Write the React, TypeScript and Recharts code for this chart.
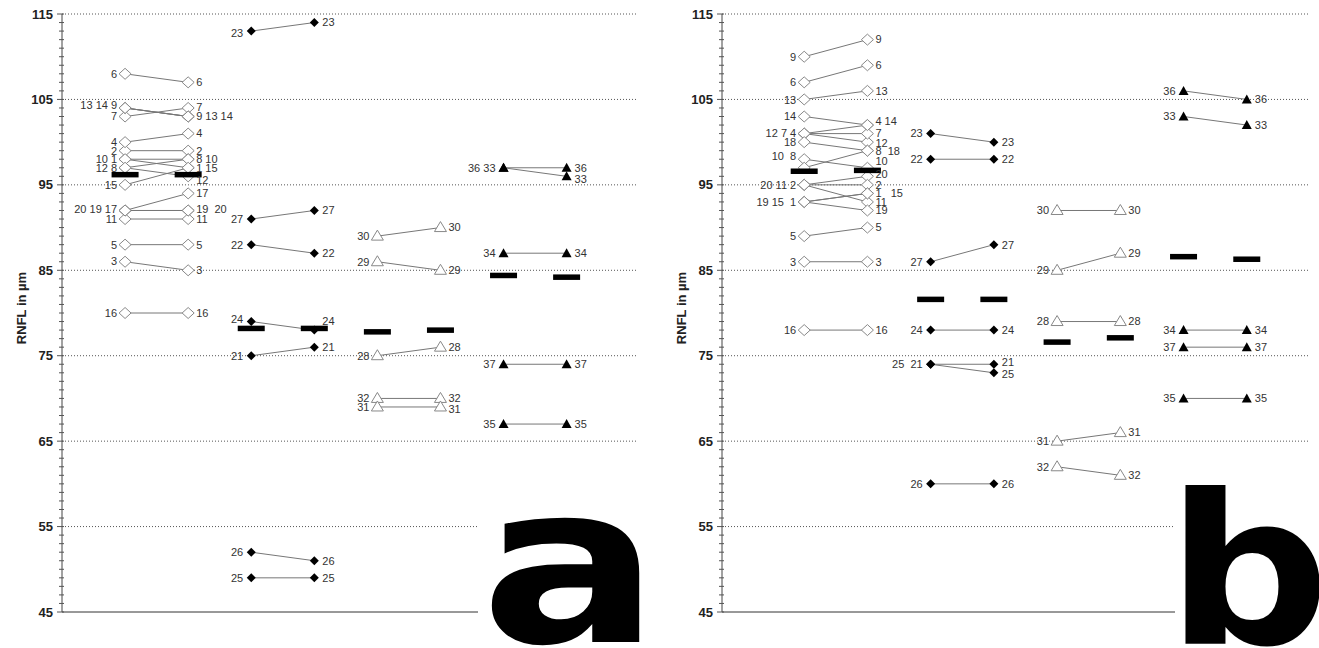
import React from "react";
import { ComposedChart, Line, Scatter, XAxis, YAxis, ReferenceLine } from "recharts";

type Patient = { id: number; pre: number; post: number };
type Lbl = { y: number; text: string };
type Kind = "openDiamond" | "filledDiamond" | "openTriangle" | "filledTriangle";
type Group = { kind: Kind; pos: number; patients: Patient[]; left: Lbl[]; right: Lbl[] };

const MAJOR_TICKS = [45, 55, 65, 75, 85, 95, 105, 115];
const GRID_LINES = [55, 65, 75, 85, 95, 105, 115];
const MINOR_TICKS = Array.from({ length: 71 }, (_, i) => 45 + i);

// ---- panel a ----
const A_OPEN_DIAMOND: Patient[] = [
    { id: 1, pre: 98, post: 97 }, { id: 2, pre: 99, post: 99 }, { id: 3, pre: 86, post: 85 },
    { id: 4, pre: 100, post: 101 }, { id: 5, pre: 88, post: 88 }, { id: 6, pre: 108, post: 107 },
    { id: 7, pre: 103, post: 104 }, { id: 8, pre: 97, post: 98 }, { id: 9, pre: 104, post: 103 },
    { id: 10, pre: 98, post: 98 }, { id: 11, pre: 91, post: 91 }, { id: 12, pre: 97, post: 96 },
    { id: 13, pre: 104, post: 103 }, { id: 14, pre: 104, post: 103 }, { id: 15, pre: 95, post: 97 },
    { id: 16, pre: 80, post: 80 }, { id: 17, pre: 92, post: 94 }, { id: 19, pre: 92, post: 92 },
    { id: 20, pre: 92, post: 92 },
];
const A1_LEFT: Lbl[] = [
    { y: 108, text: "6" }, { y: 104.3, text: "13 14 9" }, { y: 103, text: "7" }, { y: 100, text: "4" },
    { y: 99, text: "2" }, { y: 98, text: "10 1" }, { y: 97, text: "12 8" }, { y: 95, text: "15" },
    { y: 92.2, text: "20 19 17" }, { y: 91, text: "11" }, { y: 88, text: "5" }, { y: 86.1, text: "3" },
    { y: 80, text: "16" },
];
const A1_RIGHT: Lbl[] = [
    { y: 107, text: "6" }, { y: 104.1, text: "7" }, { y: 103, text: "9 13 14" }, { y: 101, text: "4" },
    { y: 99, text: "2" }, { y: 98, text: "8 10" }, { y: 97, text: "1 15" }, { y: 95.5, text: "12" },
    { y: 94, text: "17" }, { y: 92.2, text: "19  20" }, { y: 91, text: "11" }, { y: 88, text: "5" },
    { y: 85, text: "3" }, { y: 80, text: "16" },
];

const A_FILLED_DIAMOND: Patient[] = [
    { id: 23, pre: 113, post: 114 }, { id: 27, pre: 91, post: 92 }, { id: 22, pre: 88, post: 87 },
    { id: 24, pre: 79, post: 78 }, { id: 21, pre: 75, post: 76 }, { id: 26, pre: 52, post: 51 },
    { id: 25, pre: 49, post: 49 },
];
const A2_LEFT: Lbl[] = [
    { y: 112.8, text: "23" }, { y: 91, text: "27" }, { y: 88, text: "22" }, { y: 79.3, text: "24" },
    { y: 75, text: "21" }, { y: 52, text: "26" }, { y: 49, text: "25" },
];
const A2_RIGHT: Lbl[] = [
    { y: 114, text: "23" }, { y: 92, text: "27" }, { y: 87, text: "22" }, { y: 79, text: "24" },
    { y: 76, text: "21" }, { y: 51, text: "26" }, { y: 49, text: "25" },
];

const A_OPEN_TRIANGLE: Patient[] = [
    { id: 30, pre: 89, post: 90 }, { id: 29, pre: 86, post: 85 }, { id: 28, pre: 75, post: 76 },
    { id: 32, pre: 70, post: 70 }, { id: 31, pre: 69, post: 69 },
];
const A3_LEFT: Lbl[] = [
    { y: 89, text: "30" }, { y: 86, text: "29" }, { y: 75, text: "28" }, { y: 70, text: "32" }, { y: 69, text: "31" },
];
const A3_RIGHT: Lbl[] = [
    { y: 90, text: "30" }, { y: 85, text: "29" }, { y: 76, text: "28" }, { y: 70, text: "32" }, { y: 68.8, text: "31" },
];

const A_FILLED_TRIANGLE: Patient[] = [
    { id: 36, pre: 97, post: 97 }, { id: 33, pre: 97, post: 96 }, { id: 34, pre: 87, post: 87 },
    { id: 37, pre: 74, post: 74 }, { id: 35, pre: 67, post: 67 },
];
const A4_LEFT: Lbl[] = [
    { y: 97, text: "36 33" }, { y: 87, text: "34" }, { y: 74, text: "37" }, { y: 67, text: "35" },
];
const A4_RIGHT: Lbl[] = [
    { y: 97, text: "36" }, { y: 95.7, text: "33" }, { y: 87, text: "34" }, { y: 74, text: "37" }, { y: 67, text: "35" },
];

const MEANS_A = [96.2, 96.2, 78.2, 78.2, 77.8, 78.0, 84.4, 84.2];

// ---- panel b ----
const B_OPEN_DIAMOND: Patient[] = [
    { id: 9, pre: 110, post: 112 }, { id: 6, pre: 107, post: 109 }, { id: 13, pre: 105, post: 106 },
    { id: 14, pre: 103, post: 102 }, { id: 12, pre: 101, post: 100 }, { id: 7, pre: 101, post: 101 },
    { id: 4, pre: 101, post: 102 }, { id: 18, pre: 100, post: 99 }, { id: 10, pre: 98, post: 97 },
    { id: 8, pre: 97, post: 99 }, { id: 20, pre: 95, post: 96 }, { id: 11, pre: 95, post: 93 },
    { id: 2, pre: 95, post: 95 }, { id: 19, pre: 93, post: 92 }, { id: 15, pre: 93, post: 94 },
    { id: 1, pre: 93, post: 94 }, { id: 5, pre: 89, post: 90 }, { id: 3, pre: 86, post: 86 },
    { id: 16, pre: 78, post: 78 },
];
const B1_LEFT: Lbl[] = [
    { y: 110, text: "9" }, { y: 107, text: "6" }, { y: 104.9, text: "13" }, { y: 103, text: "14" },
    { y: 101, text: "12 7 4" }, { y: 100, text: "18" }, { y: 98.4, text: "10  8" }, { y: 95, text: "20 11 2" },
    { y: 93, text: "19 15  1" }, { y: 89, text: "5" }, { y: 86, text: "3" }, { y: 78, text: "16" },
];
const B1_RIGHT: Lbl[] = [
    { y: 112, text: "9" }, { y: 109, text: "6" }, { y: 106, text: "13" }, { y: 102.4, text: "4 14" },
    { y: 101, text: "7" }, { y: 99.9, text: "12" }, { y: 99, text: "8  18" }, { y: 97.8, text: "10" },
    { y: 96.3, text: "20" }, { y: 95, text: "2" }, { y: 94, text: "1   15" }, { y: 93, text: "11" },
    { y: 92, text: "19" }, { y: 90, text: "5" }, { y: 86, text: "3" }, { y: 78, text: "16" },
];

const B_FILLED_DIAMOND: Patient[] = [
    { id: 23, pre: 101, post: 100 }, { id: 22, pre: 98, post: 98 }, { id: 27, pre: 86, post: 88 },
    { id: 24, pre: 78, post: 78 }, { id: 21, pre: 74, post: 74 }, { id: 25, pre: 74, post: 73 },
    { id: 26, pre: 60, post: 60 },
];
const B2_LEFT: Lbl[] = [
    { y: 101, text: "23" }, { y: 98, text: "22" }, { y: 86, text: "27" }, { y: 78, text: "24" },
    { y: 74, text: "25  21" }, { y: 60, text: "26" },
];
const B2_RIGHT: Lbl[] = [
    { y: 100, text: "23" }, { y: 98, text: "22" }, { y: 88, text: "27" }, { y: 78, text: "24" },
    { y: 74.3, text: "21" }, { y: 72.8, text: "25" }, { y: 60, text: "26" },
];

const B_OPEN_TRIANGLE: Patient[] = [
    { id: 30, pre: 92, post: 92 }, { id: 29, pre: 85, post: 87 }, { id: 28, pre: 79, post: 79 },
    { id: 31, pre: 65, post: 66 }, { id: 32, pre: 62, post: 61 },
];
const B3_LEFT: Lbl[] = [
    { y: 92, text: "30" }, { y: 85, text: "29" }, { y: 79, text: "28" }, { y: 65, text: "31" }, { y: 62, text: "32" },
];
const B3_RIGHT: Lbl[] = [
    { y: 92, text: "30" }, { y: 87, text: "29" }, { y: 79, text: "28" }, { y: 66, text: "31" }, { y: 61, text: "32" },
];

const B_FILLED_TRIANGLE: Patient[] = [
    { id: 36, pre: 106, post: 105 }, { id: 33, pre: 103, post: 102 }, { id: 34, pre: 78, post: 78 },
    { id: 37, pre: 76, post: 76 }, { id: 35, pre: 70, post: 70 },
];
const B4_LEFT: Lbl[] = [
    { y: 106, text: "36" }, { y: 103, text: "33" }, { y: 78, text: "34" }, { y: 76, text: "37" }, { y: 70, text: "35" },
];
const B4_RIGHT: Lbl[] = [
    { y: 105, text: "36" }, { y: 102, text: "33" }, { y: 78, text: "34" }, { y: 76, text: "37" }, { y: 70, text: "35" },
];

const MEANS_B = [96.6, 96.7, 81.6, 81.6, 76.6, 77.1, 86.6, 86.3];

const GROUPS_A: Group[] = [
    { kind: "openDiamond", pos: 1, patients: A_OPEN_DIAMOND, left: A1_LEFT, right: A1_RIGHT },
    { kind: "filledDiamond", pos: 3, patients: A_FILLED_DIAMOND, left: A2_LEFT, right: A2_RIGHT },
    { kind: "openTriangle", pos: 5, patients: A_OPEN_TRIANGLE, left: A3_LEFT, right: A3_RIGHT },
    { kind: "filledTriangle", pos: 7, patients: A_FILLED_TRIANGLE, left: A4_LEFT, right: A4_RIGHT },
];
const GROUPS_B: Group[] = [
    { kind: "openDiamond", pos: 1, patients: B_OPEN_DIAMOND, left: B1_LEFT, right: B1_RIGHT },
    { kind: "filledDiamond", pos: 3, patients: B_FILLED_DIAMOND, left: B2_LEFT, right: B2_RIGHT },
    { kind: "openTriangle", pos: 5, patients: B_OPEN_TRIANGLE, left: B3_LEFT, right: B3_RIGHT },
    { kind: "filledTriangle", pos: 7, patients: B_FILLED_TRIANGLE, left: B4_LEFT, right: B4_RIGHT },
];

const FONT = "'Liberation Sans', Arial, sans-serif";

function markerPath(kind: Kind, cx: number, cy: number) {
    switch (kind) {
        case "openDiamond":
            return <path d={`M${cx},${cy - 5.5}L${cx + 6},${cy}L${cx},${cy + 5.5}L${cx - 6},${cy}Z`} fill="#fff" stroke="#888" strokeWidth={1} />;
        case "filledDiamond":
            return <path d={`M${cx},${cy - 4.5}L${cx + 4.5},${cy}L${cx},${cy + 4.5}L${cx - 4.5},${cy}Z`} fill="#000" />;
        case "openTriangle":
            return <path d={`M${cx},${cy - 6}L${cx + 6},${cy + 4}L${cx - 6},${cy + 4}Z`} fill="#fff" stroke="#888" strokeWidth={1} />;
        default:
            return <path d={`M${cx},${cy - 5}L${cx + 5},${cy + 4}L${cx - 5},${cy + 4}Z`} fill="#000" />;
    }
}

function YTick(props: any) {
    const { x, y, payload } = props;
    const major = MAJOR_TICKS.includes(payload.value);
    return (
        <g>
            <line x1={x - (major ? 5 : 3)} x2={x + 2} y1={y} y2={y} stroke="#555" strokeWidth={1} />
            {major && (
                <text x={x - 9} y={y} dy="0.35em" textAnchor="end" fontSize={13} fontWeight="bold" fontFamily={FONT} fill="#222">
                    {payload.value}
                </text>
            )}
        </g>
    );
}

function Panel({ groups, means, xDomain, width, marginRight }: { groups: Group[]; means: number[]; xDomain: [number, number]; width: number; marginRight: number }) {
    const points = groups.flatMap(g =>
        g.patients.flatMap(p => [
            { x: g.pos, y: p.pre, kind: g.kind },
            { x: g.pos + 1, y: p.post, kind: g.kind },
        ])
    );
    const labels = groups.flatMap(g => [
        ...g.left.map(l => ({ x: g.pos, y: l.y, text: l.text, side: "left" })),
        ...g.right.map(l => ({ x: g.pos + 1, y: l.y, text: l.text, side: "right" })),
    ]);
    const meanPts = means.map((m, i) => ({ x: i + 1, y: m }));

    return (
        <ComposedChart width={width} height={648} margin={{ top: 14, right: marginRight, bottom: 0, left: 0 }}>
            <XAxis type="number" dataKey="x" domain={xDomain} allowDataOverflow tick={false} tickLine={false} height={36} axisLine={{ stroke: "#333" }} />
            <YAxis
                type="number"
                dataKey="y"
                domain={[45, 115]}
                allowDataOverflow
                ticks={MINOR_TICKS}
                interval={0}
                width={62}
                tickSize={0}
                tickMargin={0}
                tickLine={false}
                axisLine={{ stroke: "#444" }}
                tick={(p: any) => <YTick {...p} />}
            />
            {GRID_LINES.map(v => (
                <ReferenceLine key={v} y={v} stroke="#555" strokeDasharray="1 2" />
            ))}
            {groups.flatMap(g =>
                g.patients.map(p => (
                    <Line
                        key={`${g.kind}-${p.id}`}
                        data={[{ x: g.pos, y: p.pre }, { x: g.pos + 1, y: p.post }]}
                        dataKey="y"
                        stroke="#777"
                        strokeWidth={1}
                        dot={false}
                        activeDot={false}
                        isAnimationActive={false}
                    />
                ))
            )}
            <Scatter
                data={points}
                dataKey="y"
                isAnimationActive={false}
                shape={(s: any) => <g>{markerPath(s.payload.kind, s.cx, s.cy)}</g>}
            />
            <Scatter
                data={meanPts}
                dataKey="y"
                isAnimationActive={false}
                shape={(s: any) => <rect x={s.cx - 13.5} y={s.cy - 2.7} width={27} height={5.5} fill="#000" />}
            />
            <Scatter
                data={labels}
                dataKey="y"
                isAnimationActive={false}
                shape={(s: any) => (
                    <text
                        x={s.payload.side === "left" ? s.cx - 8 : s.cx + 8}
                        y={s.cy}
                        dy="0.35em"
                        textAnchor={s.payload.side === "left" ? "end" : "start"}
                        fontSize={11}
                        fontFamily={FONT}
                        fill="#333"
                        style={{ whiteSpace: "pre" }}
                    >
                        {s.payload.text}
                    </text>
                )}
            />
        </ComposedChart>
    );
}

const axisTitle: React.CSSProperties = {
    position: "absolute",
    top: 300,
    width: 120,
    textAlign: "center",
    transform: "rotate(-90deg)",
    fontFamily: FONT,
    fontWeight: "bold",
    fontSize: 13,
    color: "#222",
    lineHeight: "16px",
};

export default function App() {
    return (
        <div style={{ position: "absolute", left: 0, top: 0, width: 1319, height: 648, background: "#fff", overflow: "hidden" }}>
            <div style={{ position: "absolute", left: 0, top: 0 }}>
                <Panel groups={GROUPS_A} means={MEANS_A} xDomain={[0, 9.1]} width={640} marginRight={4} />
            </div>
            <div style={{ position: "absolute", left: 660, top: 0 }}>
                <Panel groups={GROUPS_B} means={MEANS_B} xDomain={[-0.3, 9.0]} width={659} marginRight={9} />
            </div>
            <div style={{ ...axisTitle, left: 22 - 60 }}>RNFL in µm</div>
            <div style={{ ...axisTitle, left: 682 - 60 }}>RNFL in µm</div>
            <svg style={{ position: "absolute", left: 478, top: 500 }} width={170} height={148}>
                <rect x={0} y={0} width={170} height={148} fill="#fff" />
                <text x={2} y={142} fontSize={222} fontWeight="bold" fontFamily="'DejaVu Sans', sans-serif" fill="#000" transform="scale(1.2,1)">a</text>
            </svg>
            <svg style={{ position: "absolute", left: 1175, top: 466 }} width={144} height={182}>
                <rect x={0} y={0} width={144} height={182} fill="#fff" />
                <text x={-8} y={178} fontSize={208} fontWeight="bold" fontFamily="'DejaVu Sans', sans-serif" fill="#000" transform="scale(1.1,1)">b</text>
            </svg>
        </div>
    );
}
